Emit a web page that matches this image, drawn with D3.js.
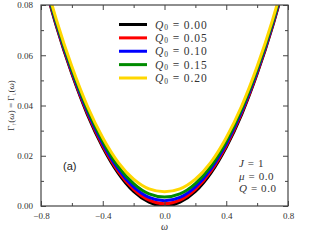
<!DOCTYPE html>
<html>
<head>
<meta charset="utf-8">
<script src="https://cdn.jsdelivr.net/npm/d3@7"></script>
<style>
  body { margin: 0; background: #fff; }
</style>
</head>
<body>
<svg id="chart" width="320" height="240"></svg>
<script>
// omega grid and curves
const omega = [-0.8, -0.7, -0.6, -0.5, -0.4, -0.3, -0.2, -0.1, 0.0, 0.1, 0.2, 0.3, 0.4, 0.5, 0.6, 0.7, 0.8];
const gammaQ000 = [0.0934, 0.0715, 0.0526, 0.0365, 0.0234, 0.0131, 0.0058, 0.0015, 0.0000, 0.0015, 0.0058, 0.0131, 0.0234, 0.0365, 0.0526, 0.0715, 0.0934];
const gammaQ005 = [0.0937, 0.0719, 0.0530, 0.0370, 0.0240, 0.0138, 0.0066, 0.0023, 0.0009, 0.0023, 0.0066, 0.0138, 0.0240, 0.0370, 0.0530, 0.0719, 0.0937];
const gammaQ010 = [0.0941, 0.0724, 0.0536, 0.0377, 0.0248, 0.0147, 0.0076, 0.0034, 0.0021, 0.0034, 0.0076, 0.0147, 0.0248, 0.0377, 0.0536, 0.0724, 0.0941];
const gammaQ015 = [0.0947, 0.0731, 0.0544, 0.0386, 0.0258, 0.0158, 0.0089, 0.0048, 0.0036, 0.0048, 0.0089, 0.0158, 0.0258, 0.0386, 0.0544, 0.0731, 0.0947];
const gammaQ020 = [0.0955, 0.0741, 0.0555, 0.0398, 0.0272, 0.0174, 0.0107, 0.0068, 0.0057, 0.0068, 0.0107, 0.0174, 0.0272, 0.0398, 0.0555, 0.0741, 0.0955];

const seriesLabels = ["0.00", "0.05", "0.10", "0.15", "0.20"];
const seriesValues = [gammaQ000, gammaQ005, gammaQ010, gammaQ015, gammaQ020];
const colors = ["#000000", "#ff0000", "#0000ff", "#008b00", "#ffd700"];

const xTicks = [-0.8, -0.4, 0.0, 0.4, 0.8];
const xMinor = [-0.6, -0.2, 0.2, 0.6];
const yTicks = [0.00, 0.02, 0.04, 0.06, 0.08];
const yMinor = [0.01, 0.03, 0.05, 0.07];

const serif = "Liberation Serif";
const margin = {top: 5, right: 32, bottom: 34, left: 41};
const width = 320, height = 240;
const iw = width - margin.left - margin.right;
const ih = height - margin.top - margin.bottom;

const svg = d3.select("#chart");
const g = svg.append("g").attr("transform", `translate(${margin.left},${margin.top})`);

const x = d3.scaleLinear().domain([-0.8, 0.8]).range([0, iw]);
const y = d3.scaleLinear().domain([0, 0.08]).range([ih, 0]);

g.append("clipPath").attr("id", "clip")
  .append("rect").attr("width", iw).attr("height", ih);

const line = d3.line()
    .x((d, i) => x(omega[i]))
    .y(d => y(d))
    .curve(d3.curveNatural);

g.append("g")
    .attr("clip-path", "url(#clip)")
  .selectAll("path")
  .data(seriesValues)
  .join("path")
    .attr("fill", "none")
    .attr("stroke", (d, i) => colors[i])
    .attr("stroke-width", 3)
    .attr("d", line);

// axes, ticks pointing inward on all four sides
const axisColor = "#444";
function styleAxis(sel) {
  sel.select(".domain").remove();
  sel.selectAll("line").attr("stroke", axisColor);
  sel.selectAll("text").style("font-family", serif).attr("font-size", 9).attr("fill", "#333");
}

const fmt = d => d3.format(".1f")(d).replace("-", "\u2212");
const fmtY = d3.format(".2f");

g.append("g").attr("transform", `translate(0,${ih})`)
  .call(d3.axisBottom(x).tickValues(xTicks).tickFormat(fmt).tickSizeInner(-5).tickPadding(7))
  .call(styleAxis);
g.append("g").attr("transform", `translate(0,${ih})`)
  .call(d3.axisBottom(x).tickValues(xMinor).tickFormat("").tickSizeInner(-3))
  .call(styleAxis);
g.append("g")
  .call(d3.axisTop(x).tickValues(xTicks).tickFormat("").tickSizeInner(-5))
  .call(styleAxis);
g.append("g")
  .call(d3.axisTop(x).tickValues(xMinor).tickFormat("").tickSizeInner(-3))
  .call(styleAxis);

g.append("g")
  .call(d3.axisLeft(y).tickValues(yTicks).tickFormat(fmtY).tickSizeInner(-5).tickPadding(8))
  .call(styleAxis);
g.append("g")
  .call(d3.axisLeft(y).tickValues(yMinor).tickFormat("").tickSizeInner(-3))
  .call(styleAxis);
g.append("g").attr("transform", `translate(${iw},0)`)
  .call(d3.axisRight(y).tickValues(yTicks).tickFormat("").tickSizeInner(-5))
  .call(styleAxis);
g.append("g").attr("transform", `translate(${iw},0)`)
  .call(d3.axisRight(y).tickValues(yMinor).tickFormat("").tickSizeInner(-3))
  .call(styleAxis);

g.append("rect")
    .attr("width", iw).attr("height", ih)
    .attr("fill", "none").attr("stroke", axisColor).attr("stroke-width", 1.2);

// axis labels
svg.append("text")
    .attr("x", margin.left + x(0)).attr("y", 230)
    .attr("text-anchor", "middle").attr("font-size", 10).attr("font-style", "italic")
    .style("font-family", serif).attr("fill", "#333")
    .text("ω");

const yl = svg.append("text")
    .attr("transform", `translate(14,${margin.top + ih / 2}) rotate(-90)`)
    .attr("text-anchor", "middle").attr("font-size", 9).attr("fill", "#333")
    .style("font-family", serif);
yl.append("tspan").text("Γ");
yl.append("tspan").attr("font-size", 6).attr("dy", 2).text("↑");
yl.append("tspan").attr("dy", -2).text("(");
yl.append("tspan").attr("font-style", "italic").text("ω");
yl.append("tspan").text(") = Γ");
yl.append("tspan").attr("font-size", 6).attr("dy", 2).text("↓");
yl.append("tspan").attr("dy", -2).text("(");
yl.append("tspan").attr("font-style", "italic").text("ω");
yl.append("tspan").text(")");

// legend
const legend = svg.append("g");
const rowY = d3.scaleLinear().domain([0, 4]).range([24.5, 78]);
seriesLabels.forEach((lab, i) => {
  legend.append("line")
      .attr("x1", 119).attr("x2", 147)
      .attr("y1", rowY(i)).attr("y2", rowY(i))
      .attr("stroke", colors[i]).attr("stroke-width", 3);
  const t = legend.append("text")
      .attr("x", 155).attr("y", rowY(i) + 4)
      .style("font-family", serif)
      .style("letter-spacing", "0.9px")
      .attr("font-size", 11.5).attr("fill", "#333");
  t.append("tspan").attr("font-style", "italic").text("Q");
  t.append("tspan").attr("font-size", 7.5).attr("dy", 1.5).text("0");
  t.append("tspan").attr("dy", -1.5).text(" = " + lab);
});

// panel tag and parameters
svg.append("text")
    .attr("x", 63).attr("y", 170)
    .style("font-family", "Liberation Sans, Arial, sans-serif")
    .attr("font-size", 11).attr("fill", "#222")
    .text("(a)");

const params = [["J", " = 1"], ["μ", " = 0.0"], ["Q", " = 0.0"]];
params.forEach((p, i) => {
  const t = svg.append("text")
      .attr("x", 239).attr("y", 167 + i * 12.7)
      .style("font-family", serif)
      .style("letter-spacing", "0.6px")
      .attr("font-size", 11).attr("fill", "#333");
  t.append("tspan").attr("font-style", "italic").text(p[0]);
  t.append("tspan").text(p[1]);
});
</script>
</body>
</html>
